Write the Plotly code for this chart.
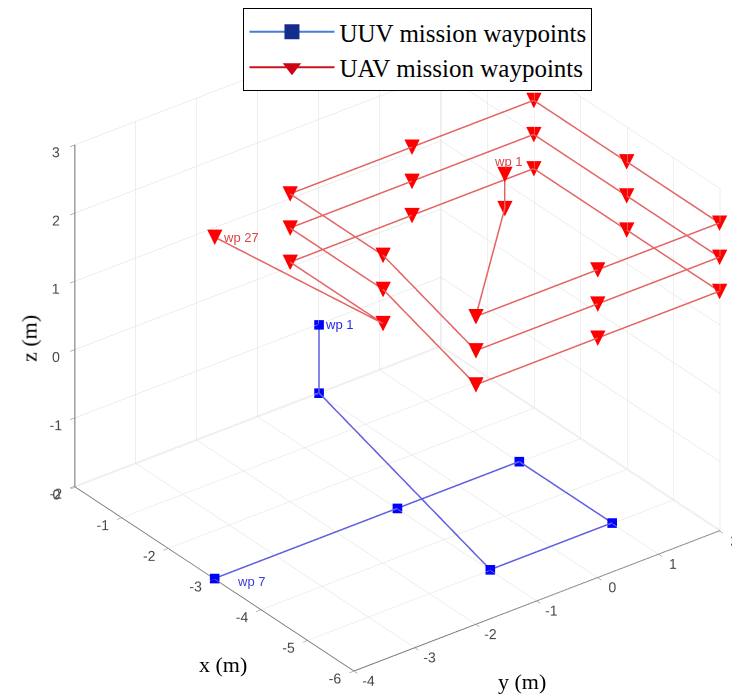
import plotly.graph_objects as go

# UUV mission waypoints (x, y, z in m)
uuv_x = [0, 0, -5, -5, -3, -3, -3]
uuv_y = [0, 0, -1, 1, 1, -1, -4]
uuv_z = [-1, -2, -2, -2, -2, -2, -2]

# UAV mission waypoints (x, y, z in m)
uav_x = [-4, -4,
         -6, -6, -6, -4, -2, -2, -2, -4,
         -6, -6, -6, -4, -2, -2, -2, -4,
         -6, -6, -6, -4, -2, -2, -2, -4,
         -3]
uav_y = [0, 0,
         -2, 0, 2, 2, 2, 0, -2, -2,
         -2, 0, 2, 2, 2, 0, -2, -2,
         -2, 0, 2, 2, 2, 0, -2, -2,
         -4]
uav_z = [3, 2.5,
         2.5, 2.5, 2.5, 2.5, 2.5, 2.5, 2.5, 2.5,
         2, 2, 2, 2, 2, 2, 2, 2,
         1.5, 1.5, 1.5, 1.5, 1.5, 1.5, 1.5, 1.5,
         3]

x_ticks = [-6, -5, -4, -3, -2, -1, 0]
y_ticks = [-4, -3, -2, -1, 0, 1, 2]
z_ticks = [-2, -1, 0, 1, 2, 3]

uuv_name = "UUV mission waypoints"
uav_name = "UAV mission waypoints"

fig = go.Figure()

fig.add_trace(go.Scatter3d(
    x=uuv_x, y=uuv_y, z=uuv_z, mode="lines+markers",
    line=dict(color="rgb(95,95,225)", width=3),
    marker=dict(symbol="square", size=5, color="rgb(0,0,255)"),
    showlegend=False, hoverinfo="skip"))

fig.add_trace(go.Scatter3d(
    x=uav_x, y=uav_y, z=uav_z, mode="lines+text",
    text=["<sub>▼</sub>"] * len(uav_x), textposition="middle center",
    textfont=dict(family="DejaVu Sans", size=27, color="rgb(255,0,0)"),
    line=dict(color="rgb(228,100,100)", width=3),
    showlegend=False, hoverinfo="skip"))

# legend entries
fig.add_trace(go.Scatter(
    x=[None], y=[None], mode="lines+markers", name=uuv_name,
    line=dict(color="rgb(70,125,215)", width=2),
    marker=dict(symbol="square", size=15, color="rgb(20,45,140)")))
fig.add_trace(go.Scatter(
    x=[None], y=[None], mode="lines+markers", name=uav_name,
    line=dict(color="rgb(200,20,30)", width=2),
    marker=dict(symbol="triangle-down", size=17, color="rgb(205,0,20)")))

axis_common = dict(
    showbackground=False,
    gridcolor="rgb(220,220,220)", gridwidth=1,
    showline=True, linecolor="rgb(110,110,110)", linewidth=2,
    ticks="outside", ticklen=6, tickcolor="rgb(110,110,110)", tickangle=0,
    tickfont=dict(family="Liberation Sans", size=13, color="rgb(75,75,75)"),
    zeroline=False, showspikes=False, title=dict(text=""),
)

tick_text = lambda v: [str(t) for t in v]

cx, cy, cz = -0.0114, -0.0614, -0.0476

fig.update_layout(
    width=740, height=698,
    margin=dict(l=0, r=0, t=0, b=0),
    paper_bgcolor="white", plot_bgcolor="rgba(0,0,0,0)",
    xaxis=dict(visible=False), yaxis=dict(visible=False),
    scene=dict(
        domain=dict(x=[0.0, 1.0], y=[0.0, 1.0]),
        xaxis=dict(range=[0.01, -6], tickvals=x_ticks, ticktext=tick_text(x_ticks), **axis_common),
        yaxis=dict(range=[-4, 2.01], tickvals=y_ticks, ticktext=tick_text(y_ticks), **axis_common),
        zaxis=dict(range=[-2.01, 3], tickvals=z_ticks, ticktext=tick_text(z_ticks), **axis_common),
        aspectmode="manual", aspectratio=dict(x=1.319, y=1.319, z=1.134),
        camera=dict(projection=dict(type="orthographic"),
                    eye=dict(x=0.875 + cx, y=-0.667 + cy, z=0.641 + cz),
                    center=dict(x=cx, y=cy, z=cz), up=dict(x=0, y=0, z=1)),
        annotations=[
            dict(x=uuv_x[0], y=uuv_y[0], z=uuv_z[0], text="wp 1", showarrow=False,
                 xanchor="left", xshift=4, font=dict(family="Liberation Sans", size=13, color="rgb(40,40,230)")),
            dict(x=uuv_x[-1], y=uuv_y[-1], z=uuv_z[-1], text="wp 7", showarrow=False,
                 xanchor="left", xshift=20, yshift=-3, font=dict(family="Liberation Sans", size=13, color="rgb(60,60,220)")),
            dict(x=uav_x[0], y=uav_y[0], z=uav_z[0], text="wp 1", showarrow=False,
                 xanchor="center", xshift=3, yshift=13, font=dict(family="Liberation Sans", size=13, color="rgb(220,70,70)")),
            dict(x=uav_x[-1], y=uav_y[-1], z=uav_z[-1], text="wp 27", showarrow=False,
                 xanchor="left", xshift=6, font=dict(family="Liberation Sans", size=13, color="rgb(220,70,70)")),
        ],
    ),
    legend=dict(x=0.554, xanchor="center", y=1.0, yanchor="top",
                font=dict(family="Liberation Serif", size=25, color="black"),
                bordercolor="black", borderwidth=1, bgcolor="white",
                itemwidth=85, tracegroupgap=0),
    annotations=[
        dict(x=0.29, y=0.06, xref="paper", yref="paper", text="x (m)", showarrow=False,
             xanchor="center", yanchor="middle",
             font=dict(family="Liberation Serif", size=22, color="black")),
        dict(x=0.695, y=0.035, xref="paper", yref="paper", text="y (m)", showarrow=False,
             xanchor="center", yanchor="middle",
             font=dict(family="Liberation Serif", size=22, color="black")),
        dict(x=0.028, y=0.527, xref="paper", yref="paper", text="z (m)", showarrow=False,
             xanchor="center", yanchor="middle",
             textangle=-90, font=dict(family="Liberation Serif", size=22, color="black")),
    ],
)

fig.write_html("out.html")
